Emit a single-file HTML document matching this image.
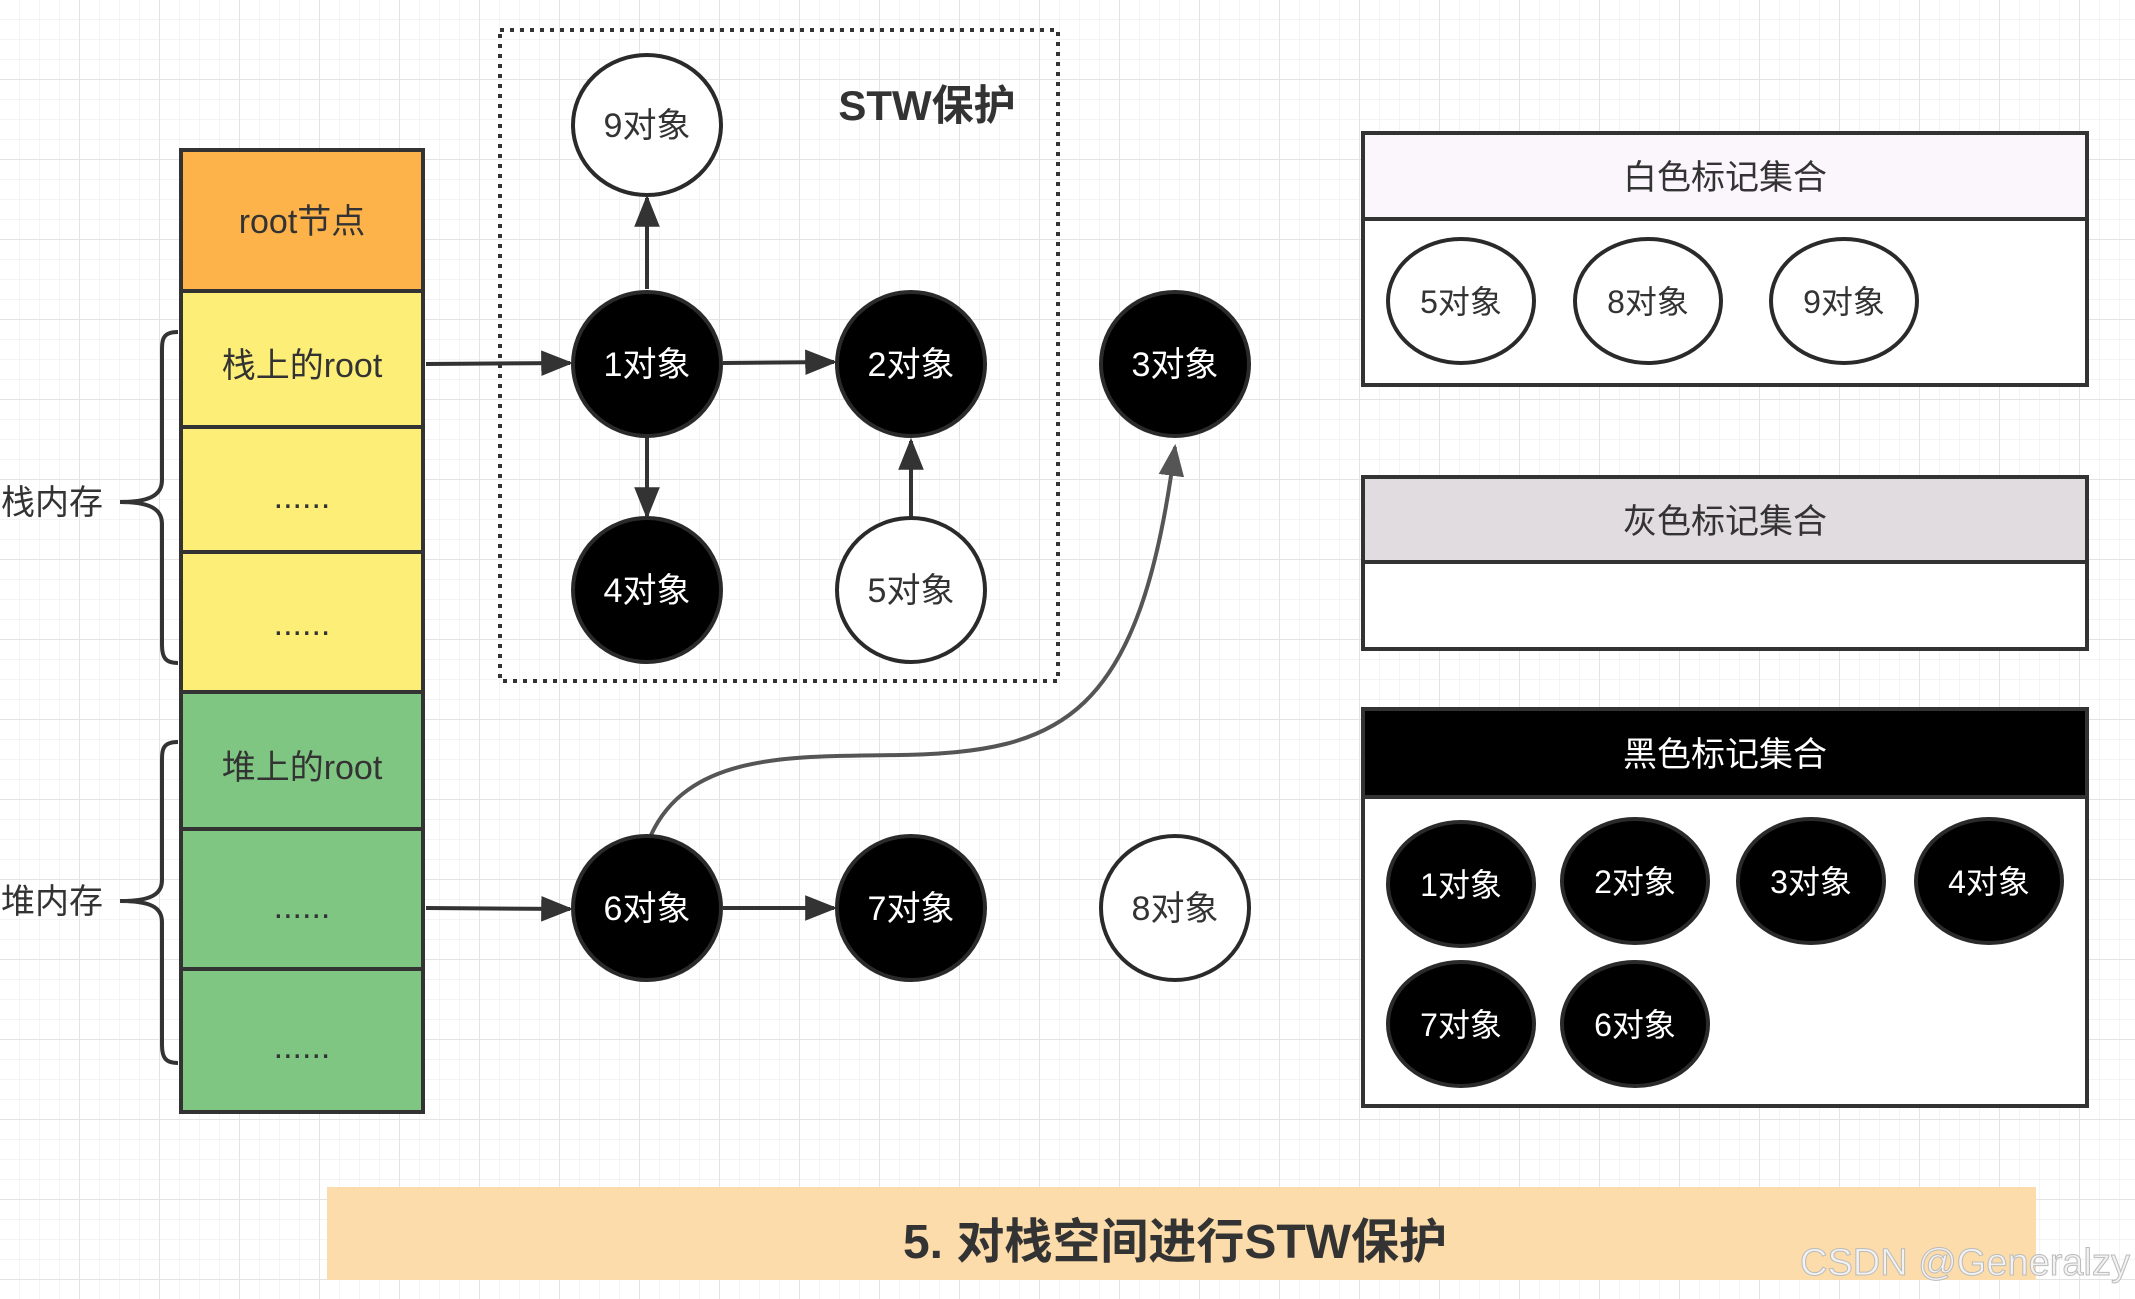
<!DOCTYPE html>
<html><head><meta charset="utf-8"><style>
html,body{margin:0;padding:0;background:#fff;}
svg{display:block;}
text{font-family:"Liberation Sans","Noto Sans CJK SC",sans-serif;}
</style></head><body>
<svg width="2135" height="1299" viewBox="0 0 2135 1299" xmlns="http://www.w3.org/2000/svg">
<defs>
<pattern id="g1" width="20" height="20" patternUnits="userSpaceOnUse"><path d="M20 0V20M0 20H20" fill="none" stroke="#f0f0f0" stroke-width="1.5"/></pattern>
<pattern id="g2" width="80" height="80" patternUnits="userSpaceOnUse"><path d="M80 0V80M0 80H80" fill="none" stroke="#e3e3e3" stroke-width="2"/></pattern>
<marker id="ar" viewBox="0 0 10 10" refX="9" refY="5" markerWidth="8" markerHeight="8" orient="auto"><path d="M0 1L10 5L0 9z" fill="#333"/></marker>
<marker id="ag" viewBox="0 0 10 10" refX="9" refY="5" markerWidth="8" markerHeight="8" orient="auto"><path d="M0 1L10 5L0 9z" fill="#555"/></marker>
</defs>
<rect width="2135" height="1299" fill="url(#g1)"/>
<rect width="2135" height="1299" fill="url(#g2)"/>

<g stroke="#333" stroke-width="4">
<rect x="181" y="150" width="242" height="141" fill="#fdb34a"/>
<rect x="181" y="291" width="242" height="136" fill="#fdee78"/>
<rect x="181" y="427" width="242" height="125" fill="#fdee78"/>
<rect x="181" y="552" width="242" height="140" fill="#fdee78"/>
<rect x="181" y="692" width="242" height="137" fill="#80c683"/>
<rect x="181" y="829" width="242" height="140" fill="#80c683"/>
<rect x="181" y="969" width="242" height="143" fill="#80c683"/>
</g>
<g font-size="34" fill="#333" text-anchor="middle">
<text x="302" y="233">root节点</text>
<text x="302" y="377">栈上的root</text>
<text x="302" y="508">......</text>
<text x="302" y="635">......</text>
<text x="302" y="779">堆上的root</text>
<text x="302" y="918">......</text>
<text x="302" y="1058">......</text>
<text x="52" y="514">栈内存</text>
<text x="52" y="913">堆内存</text>
</g>
<g fill="none" stroke="#333" stroke-width="4">
<path d="M178 332 C162 332 162 340 162 352 L162 480 C162 495 150 502 120 502 C150 502 162 509 162 524 L162 645 C162 657 165 663 178 663"/>
<path d="M178 742 C162 742 162 750 162 762 L162 880 C162 895 150 901 120 901 C150 901 162 907 162 922 L162 1045 C162 1057 165 1063 178 1063"/>
</g>

<rect x="500" y="30" width="558" height="651" fill="none" stroke="#333" stroke-width="4" stroke-dasharray="4 6"/>
<text x="927" y="120" font-size="42" font-weight="bold" fill="#333" text-anchor="middle">STW保护</text>

<g stroke="#333" stroke-width="4" fill="none" marker-end="url(#ar)">
<line x1="426" y1="364" x2="570" y2="363"/>
<line x1="723" y1="363" x2="834" y2="362"/>
<line x1="647" y1="289" x2="647" y2="198"/>
<line x1="647" y1="437" x2="647" y2="516"/>
<line x1="911" y1="517" x2="911" y2="441"/>
<line x1="426" y1="908" x2="570" y2="909"/>
<line x1="723" y1="908" x2="834" y2="908"/>
</g>
<path d="M651 835 C690 750 800 757 900 755 C1060 752 1140 720 1175 447" fill="none" stroke="#555" stroke-width="4" marker-end="url(#ag)"/>

<g stroke="#2a2a2a" stroke-width="4">
<ellipse cx="647" cy="125" rx="74" ry="70" fill="#fff"/>
<ellipse cx="647" cy="364" rx="74" ry="72" fill="#000"/>
<ellipse cx="911" cy="364" rx="74" ry="72" fill="#000"/>
<ellipse cx="1175" cy="364" rx="74" ry="72" fill="#000"/>
<ellipse cx="647" cy="590" rx="74" ry="72" fill="#000"/>
<ellipse cx="911" cy="590" rx="74" ry="72" fill="#fff"/>
<ellipse cx="647" cy="908" rx="74" ry="72" fill="#000"/>
<ellipse cx="911" cy="908" rx="74" ry="72" fill="#000"/>
<ellipse cx="1175" cy="908" rx="74" ry="72" fill="#fff"/>
</g>
<g font-size="34" text-anchor="middle">
<text x="647" y="137" fill="#333">9对象</text>
<text x="647" y="376" fill="#fff">1对象</text>
<text x="911" y="376" fill="#fff">2对象</text>
<text x="1175" y="376" fill="#fff">3对象</text>
<text x="647" y="602" fill="#fff">4对象</text>
<text x="911" y="602" fill="#333">5对象</text>
<text x="647" y="920" fill="#fff">6对象</text>
<text x="911" y="920" fill="#fff">7对象</text>
<text x="1175" y="920" fill="#333">8对象</text>
</g>

<g stroke="#333" stroke-width="4">
<rect x="1363" y="133" width="724" height="252" fill="#fff"/>
<rect x="1363" y="133" width="724" height="86" fill="#fbf6fc"/>
<rect x="1363" y="477" width="724" height="172" fill="#fff"/>
<rect x="1363" y="477" width="724" height="85" fill="#e0dcdf"/>
<rect x="1363" y="709" width="724" height="397" fill="#fff"/>
<rect x="1363" y="709" width="724" height="88" fill="#000"/>
</g>
<g font-size="34" text-anchor="middle">
<text x="1725" y="189" fill="#333">白色标记集合</text>
<text x="1725" y="533" fill="#333">灰色标记集合</text>
<text x="1725" y="766" fill="#fff">黑色标记集合</text>
</g>
<g stroke="#2a2a2a" stroke-width="4">
<ellipse cx="1461" cy="301" rx="73" ry="62" fill="#fff"/>
<ellipse cx="1648" cy="301" rx="73" ry="62" fill="#fff"/>
<ellipse cx="1844" cy="301" rx="73" ry="62" fill="#fff"/>
<ellipse cx="1461" cy="884" rx="73" ry="62" fill="#000"/>
<ellipse cx="1635" cy="881" rx="73" ry="62" fill="#000"/>
<ellipse cx="1811" cy="881" rx="73" ry="62" fill="#000"/>
<ellipse cx="1989" cy="881" rx="73" ry="62" fill="#000"/>
<ellipse cx="1461" cy="1024" rx="73" ry="62" fill="#000"/>
<ellipse cx="1635" cy="1024" rx="73" ry="62" fill="#000"/>
</g>
<g font-size="32" text-anchor="middle">
<text x="1461" y="313" fill="#333">5对象</text>
<text x="1648" y="313" fill="#333">8对象</text>
<text x="1844" y="313" fill="#333">9对象</text>
<text x="1461" y="896" fill="#fff">1对象</text>
<text x="1635" y="893" fill="#fff">2对象</text>
<text x="1811" y="893" fill="#fff">3对象</text>
<text x="1989" y="893" fill="#fff">4对象</text>
<text x="1461" y="1036" fill="#fff">7对象</text>
<text x="1635" y="1036" fill="#fff">6对象</text>
</g>

<rect x="327" y="1187" width="1709" height="93" fill="#fbdcaa"/>
<text x="1175" y="1258" font-size="48" font-weight="bold" fill="#333" text-anchor="middle">5. 对栈空间进行STW保护</text>
<text x="2130" y="1275" font-size="38" fill="#f2f2f2" stroke="#bbb" stroke-width="1" text-anchor="end">CSDN @Generalzy</text>
</svg>
</body></html>
